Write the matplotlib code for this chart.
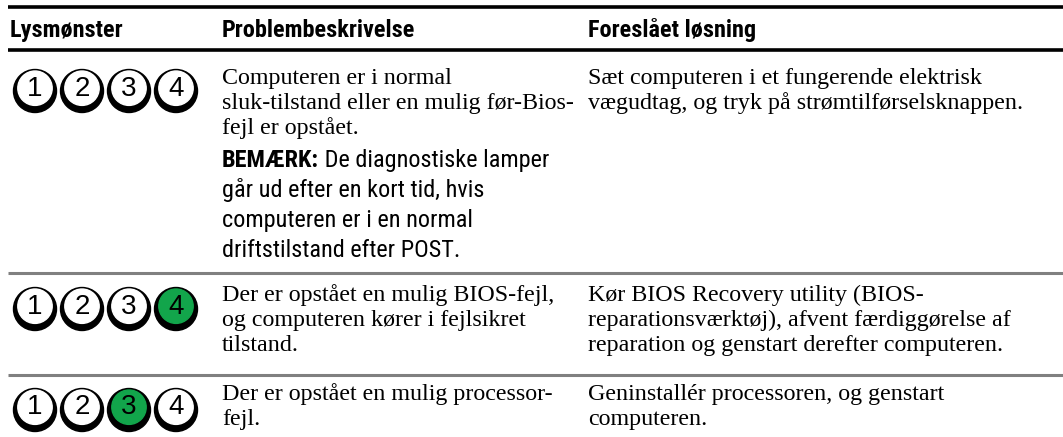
import matplotlib
matplotlib.use("Agg")
import matplotlib.pyplot as plt
from matplotlib.patches import Circle
from matplotlib import font_manager as fm

# ---- content ----
headers = ["Lysmønster", "Problembeskrivelse", "Foreslået løsning"]
lamp_numbers = ["1", "2", "3", "4"]
green_lamp = [None, 4, 3]          # which lamp is lit (green) per row

problem_lines = [
    ["Computeren er i normal",
     "sluk-tilstand eller en mulig før-Bios-",
     "fejl er opstået."],
    ["Der er opstået en mulig BIOS-fejl,",
     "og computeren kører i fejlsikret",
     "tilstand."],
    ["Der er opstået en mulig processor-",
     "fejl."],
]
note_label = "BEMÆRK:"
note_lines = [" De diagnostiske lamper",
              "går ud efter en kort tid, hvis",
              "computeren er i en normal",
              "driftstilstand efter POST."]
solution_lines = [
    ["Sæt computeren i et fungerende elektrisk",
     "vægudtag, og tryk på strømtilførselsknappen."],
    ["Kør BIOS Recovery utility (BIOS-",
     "reparationsværktøj), afvent færdiggørelse af",
     "reparation og genstart derefter computeren."],
    ["Geninstallér processoren, og genstart",
     "computeren."],
]

# ---- layout (pixel units) ----
W, H = 1063, 437
col_x = [10, 222, 588]
top_rule, head_rule = 7, 50
header_base = 37
row_first_base = [84, 301, 400]
row_seps = [273, 375]
serif_step = 25
note_first_base = 167
note_step = 30
lamp_cx = [35, 82, 129, 176]
lamp_cy = [91, 309, 410]
lamp_r = 21.5
GREEN = "#12a54b"
SERIF_SIZE = 17.3
NARROW_SIZE = 17.5

def pick(names):
    for n in names:
        try:
            fm.findfont(n, fallback_to_default=False)
            return n
        except Exception:
            pass
    return "DejaVu Sans"

SERIF = pick(["Liberation Serif", "DejaVu Serif"])
NARROW = pick(["Liberation Sans Narrow", "Roboto Condensed", "Liberation Sans"])
SANS = pick(["Liberation Sans", "DejaVu Sans"])

fig = plt.figure(figsize=(W / 100, H / 100), dpi=100)
ax = fig.add_axes([0, 0, 1, 1])
ax.set_xlim(0, W)
ax.set_ylim(H, 0)
ax.axis("off")

# rules
ax.plot([8, W], [top_rule, top_rule], color="black", lw=2.6, solid_capstyle="butt")
ax.plot([8, W], [head_rule, head_rule], color="black", lw=2.6, solid_capstyle="butt")
for y in row_seps:
    ax.plot([8, W], [y, y], color="#808080", lw=2.2, solid_capstyle="butt")

# headers
for x, h in zip(col_x, headers):
    ax.text(x, header_base, h, family=NARROW, weight="bold", fontsize=NARROW_SIZE,
            va="baseline", ha="left", color="black")

# lamps
for r, g in enumerate(green_lamp):
    cy = lamp_cy[r]
    for i, num in enumerate(lamp_numbers):
        cx = lamp_cx[i]
        ax.add_patch(Circle((cx, cy), lamp_r, color="black", zorder=2))
        fill = GREEN if g == i + 1 else "white"
        ax.add_patch(Circle((cx, cy - 2.8), lamp_r * 0.80, color=fill, zorder=3))
        ax.text(cx, cy - 2.5, num, family=SANS, fontsize=20,
                ha="center", va="center", color="black", zorder=4)

# problem text
for r, lines in enumerate(problem_lines):
    for k, line in enumerate(lines):
        ax.text(col_x[1], row_first_base[r] + k * serif_step, line, family=SERIF,
                fontsize=SERIF_SIZE, va="baseline", ha="left", color="black")

# note
t = ax.text(col_x[1], note_first_base, note_label, family=NARROW, weight="bold",
            fontsize=NARROW_SIZE, va="baseline", ha="left", color="black")
fig.canvas.draw()
bb = t.get_window_extent()
x_after = ax.transData.inverted().transform((bb.x1, 0))[0]
ax.text(x_after, note_first_base, note_lines[0], family=NARROW, fontsize=NARROW_SIZE,
        va="baseline", ha="left", color="black")
for k, line in enumerate(note_lines[1:], start=1):
    ax.text(col_x[1], note_first_base + k * note_step, line, family=NARROW,
            fontsize=NARROW_SIZE, va="baseline", ha="left", color="black")

# solution text
for r, lines in enumerate(solution_lines):
    for k, line in enumerate(lines):
        ax.text(col_x[2], row_first_base[r] + k * serif_step, line, family=SERIF,
                fontsize=SERIF_SIZE, va="baseline", ha="left", color="black")

fig.savefig("out.png", dpi=100)
